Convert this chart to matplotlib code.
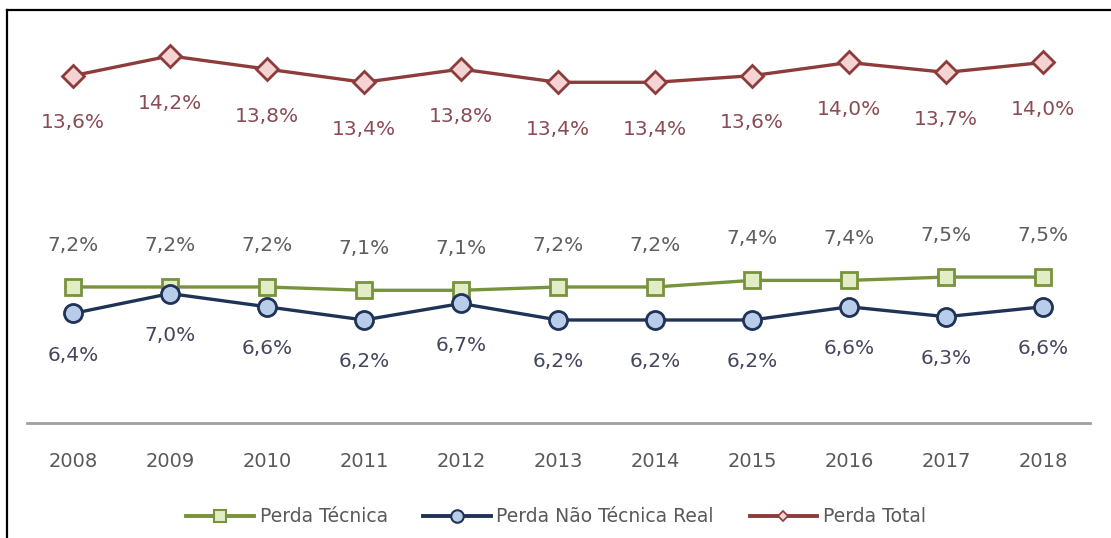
import matplotlib.pyplot as plt
from matplotlib.lines import Line2D

years = ["2008", "2009", "2010", "2011", "2012", "2013",
         "2014", "2015", "2016", "2017", "2018"]
perda_tecnica = [7.2, 7.2, 7.2, 7.1, 7.1, 7.2, 7.2, 7.4, 7.4, 7.5, 7.5]
perda_nao_tecnica = [6.4, 7.0, 6.6, 6.2, 6.7, 6.2, 6.2, 6.2, 6.6, 6.3, 6.6]
perda_total = [13.6, 14.2, 13.8, 13.4, 13.8, 13.4, 13.4, 13.6, 14.0, 13.7, 14.0]


def fmt(v):
    return f"{v:.1f}%".replace(".", ",")


def main():
    plt.rcParams["font.family"] = ["DejaVu Sans"]
    fig = plt.figure(figsize=(11.11, 5.38), dpi=100)
    ax = fig.add_axes([27 / 1111, 1 - 423 / 538, 1063 / 1111, 413 / 538])

    x = list(range(len(years)))

    green = "#77933C"
    navy = "#1F3356"
    red = "#8E3B3B"

    ax.plot(x, perda_tecnica, color=green, lw=2.4, marker="s", ms=12,
            mfc="#E2EDC6", mec=green, mew=2, label="Perda Técnica", zorder=3)
    ax.plot(x, perda_nao_tecnica, color=navy, lw=2.4, marker="o", ms=13,
            mfc="#B9CCEA", mec=navy, mew=2, label="Perda Não Técnica Real",
            zorder=4)
    ax.plot(x, perda_total, color=red, lw=2.4, marker="D", ms=11,
            mfc="#F5D3D3", mec=red, mew=2, label="Perda Total", zorder=3)

    for i in x:
        ax.annotate(fmt(perda_total[i]), (i, perda_total[i]),
                    xytext=(0, -34), textcoords="offset points",
                    ha="center", va="center", fontsize=14.5, color="#8A4B55")
        ax.annotate(fmt(perda_tecnica[i]), (i, perda_tecnica[i]),
                    xytext=(0, 30), textcoords="offset points",
                    ha="center", va="center", fontsize=14.5, color="#5E5E5E")
        ax.annotate(fmt(perda_nao_tecnica[i]), (i, perda_nao_tecnica[i]),
                    xytext=(0, -30), textcoords="offset points",
                    ha="center", va="center", fontsize=14.5, color="#43465E")

    ax.set_xlim(-0.475, 10.485)
    ax.set_ylim(3.08, 15.59)
    ax.set_xticks(x)
    ax.set_xticklabels(years, fontsize=14, color="#595959")
    ax.tick_params(axis="x", length=0, pad=21)
    ax.set_yticks([])
    for side in ["top", "right", "left"]:
        ax.spines[side].set_visible(False)
    ax.spines["bottom"].set_color("#A0A0A0")
    ax.spines["bottom"].set_linewidth(2)
    ax.patch.set_alpha(0)

    handles = [
        Line2D([], [], color=green, lw=2.8, marker="s", ms=9,
               mfc="#E2EDC6", mec=green, mew=1.5),
        Line2D([], [], color=navy, lw=2.8, marker="o", ms=9,
               mfc="#B9CCEA", mec=navy, mew=1.5),
        Line2D([], [], color=red, lw=2.8, marker="D", ms=5,
               mfc="#F5D3D3", mec=red, mew=1.2),
    ]
    fig.legend(handles, ["Perda Técnica", "Perda Não Técnica Real", "Perda Total"],
               loc="center", bbox_to_anchor=(556 / 1111, 1 - 517 / 538),
               ncol=3, frameon=False, fontsize=13.5, labelcolor="#595959",
               handlelength=3.6, handletextpad=0.3, columnspacing=1.9)

    # frame edges visible in the crop (top and left)
    fig.add_artist(Line2D([7 / 1111, 7 / 1111], [0, 1 - 10 / 538],
                          transform=fig.transFigure, color="black", lw=1.6))
    fig.add_artist(Line2D([7 / 1111, 1], [1 - 10 / 538, 1 - 10 / 538],
                          transform=fig.transFigure, color="black", lw=1.6))

    fig.savefig("out.png", dpi=100, facecolor="white")


if __name__ == "__main__":
    main()
